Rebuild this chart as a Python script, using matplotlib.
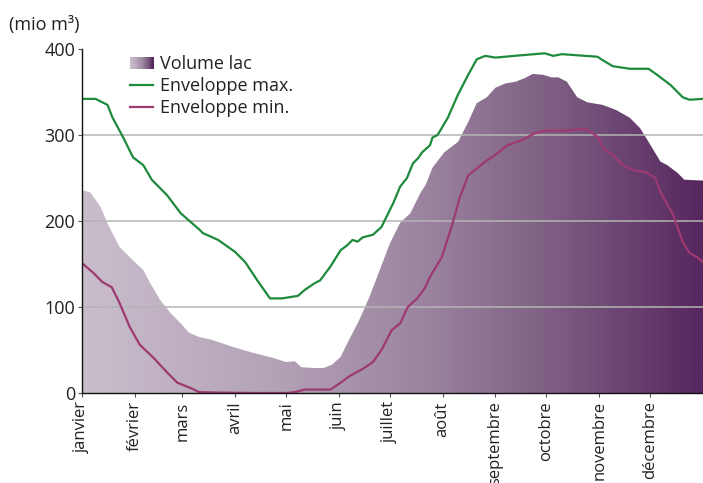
import matplotlib
matplotlib.use("Agg")
import matplotlib.pyplot as plt
import numpy as np
from matplotlib.colors import LinearSegmentedColormap
from matplotlib.patches import Rectangle
from matplotlib.legend_handler import HandlerBase

plt.rcParams['font.family'] = ['Open Sans', 'DejaVu Sans']

# month labels and the day of year where each month starts
months = ["janvier", "février", "mars", "avril", "mai", "juin", "juillet",
          "août", "septembre", "octobre", "novembre", "décembre"]
month_start = [0, 31, 59, 90, 120, 151, 181, 212, 243, 273, 304, 334]

# lake volume (mio m3)
vol_day = [0, 5, 11, 16, 22, 28, 36, 40, 46, 52, 58, 63, 69, 76, 88, 100, 112,
           120, 125, 129, 137, 142, 147, 152, 157, 163, 169, 175, 181, 187, 193,
           199, 202, 206, 213, 221, 227, 232, 238, 243, 249, 255, 260, 265, 271,
           276, 280, 285, 291, 297, 306, 314, 322, 328, 333, 340, 344, 350, 354, 365]
vol_val = [236, 233, 216, 193, 170, 158, 143, 128, 108, 93, 81, 70, 65, 62, 54, 47, 41,
           36, 37, 30, 29, 29, 33, 42, 62, 85, 112, 143, 174, 198, 209,
           233, 242, 262, 280, 292, 315, 337, 344, 355, 360, 362, 366, 371, 370,
           367, 367, 362, 344, 338, 335, 329, 320, 308, 292, 269, 265, 256, 248, 247]

# upper envelope
max_day = [0, 8, 15, 18, 24, 30, 36, 41, 50, 58, 69, 71, 80, 90, 96, 103, 110.5,
           117.5, 127, 131, 137, 140, 146, 152, 156, 159, 162, 165, 171, 176, 179,
           183, 187, 191, 194.5, 197.5, 200, 204.5, 206, 209, 215, 221, 227, 232,
           237, 243, 254, 266, 272, 277, 282, 303, 306, 312, 322, 333, 338, 346,
           353, 357, 365]
max_val = [342, 342, 335, 320, 298, 274, 265, 248, 230, 209, 190, 186, 178, 164, 152, 131, 110,
           110, 113, 120, 128, 131, 147, 166, 172, 178, 176, 181, 184, 193, 205,
           221, 240, 250, 267, 273, 280, 288, 297, 300, 320, 347, 370, 388,
           392, 390, 392, 394, 395, 392, 394, 391, 387, 380, 377, 377, 370, 358,
           344, 341, 342]

# lower envelope
min_day = [0, 6.5, 12, 17.5, 22, 28, 34, 42, 50, 56, 63.5, 69, 80, 100, 120, 125,
           131, 146, 152, 157.5, 165, 171, 176, 182, 187, 191.5, 197, 201.5, 204.5,
           211.5, 217.5, 222, 227, 237, 243, 250, 258.5, 266, 272, 284, 293, 297,
           303, 307, 312, 318, 324, 331, 337, 340, 344, 347.5, 353, 357, 361.5, 365]
min_val = [151, 140, 129, 123, 105, 77, 56, 41, 24, 12, 6, 1, 0.5, 0, 0, 1,
           4, 4, 12, 20, 28, 36, 50, 73, 81, 100, 110, 122, 135,
           158, 195, 227, 253, 269, 277, 288, 294, 302, 305, 305, 307, 306,
           298, 283, 277, 265, 259, 257, 250, 234, 219, 207, 176, 163, 158, 152]

grad_colors = ["#c9bdcb", "#b4a3b7", "#9c84a0", "#7a5a7f", "#57275f"]
grad_cmap = LinearSegmentedColormap.from_list(
    "lac", list(zip([0, 0.3, 0.55, 0.78, 1.0], grad_colors)))
green = "#1d8a3c"
magenta = "#9d3a72"
fs = 13


class GradientHandler(HandlerBase):
    def create_artists(self, legend, orig_handle, xdescent, ydescent,
                       width, height, fontsize, trans):
        n = 20
        parts = []
        for i in range(n):
            r = Rectangle((-xdescent + i * width / n, -ydescent), width / n + 0.3, height,
                          facecolor=grad_cmap(i / (n - 1)), edgecolor="none",
                          transform=trans)
            parts.append(r)
        return parts


fig = plt.figure(figsize=(7.03, 4.83), dpi=100)
ax = fig.add_axes([82 / 703, 90 / 483, 621 / 703, 344 / 483])

# gradient filled area for the lake volume
poly = ax.fill_between(vol_day, vol_val, 0, facecolor="none", edgecolor="none")
grad = np.linspace(0, 1, 400).reshape(1, -1)
img = ax.imshow(grad, cmap=grad_cmap, aspect="auto", extent=[0, 365, 0, 400],
                origin="lower", zorder=1)
img.set_clip_path(poly.get_paths()[0], transform=ax.transData)

for yv in [100, 200, 300]:
    ax.axhline(yv, color="#b4b4b4", lw=1.1, zorder=1.5)

ax.plot(max_day, max_val, color=green, lw=1.6, zorder=3)
ax.plot(min_day, min_val, color=magenta, lw=1.6, zorder=3)

ax.set_xlim(0, 365)
ax.set_ylim(0, 400)
ax.set_yticks([0, 100, 200, 300, 400])
ax.set_xticks(month_start)
ax.set_xticklabels(months, rotation=90, va="top", ha="center")
ax.tick_params(axis="both", length=3, width=0.8, color="#555555",
               labelcolor="#222222")
ax.tick_params(axis="x", pad=3, labelsize=12)
ax.tick_params(axis="y", pad=2, labelsize=fs)
for s in ["top", "right"]:
    ax.spines[s].set_visible(False)
for s in ["left", "bottom"]:
    ax.spines[s].set_linewidth(1.0)
    ax.spines[s].set_color("#111111")
    ax.spines[s].set_zorder(4)

fig.text(9 / 703, 1 - 30 / 483, "(mio m³)", fontsize=fs, color="#222222",
         va="baseline", ha="left")

h_vol = Rectangle((0, 0), 1, 1)
h_max, = ax.plot([], [], color=green, lw=1.6)
h_min, = ax.plot([], [], color=magenta, lw=1.6)
fig.legend([h_vol, h_max, h_min], ["Volume lac", "Enveloppe max.", "Enveloppe min."],
           loc="upper left", bbox_to_anchor=(130 / 703, 1 - 55 / 483),
           frameon=False, fontsize=fs, handlelength=1.3, handleheight=0.65,
           handletextpad=0.35, labelspacing=0.22, borderpad=0, borderaxespad=0,
           handler_map={Rectangle: GradientHandler()}, labelcolor="#222222")

fig.savefig("out.png", dpi=100)
